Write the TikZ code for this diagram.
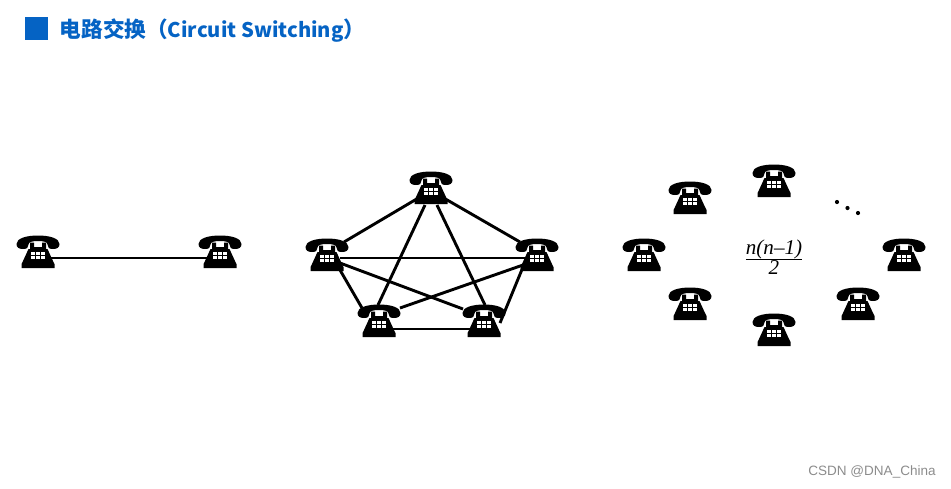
\documentclass[tikz,border=0pt]{standalone}
\usepackage{xcolor}
\usepackage{fontspec}
\newfontfamily\cjk{Noto Sans CJK SC}
\newfontfamily\timesfont{Liberation Serif}
\newfontfamily\markfont{Liberation Sans}
\definecolor{titleblue}{RGB}{5,99,196}
\tikzset{
    wire/.style={black,line width=1.65pt},
    phonebox/.style={inner sep=0pt,minimum width=42*.567pt,minimum height=32*.567pt},
    phone/.pic={
        % 听筒
        \fill (-21.5,-8) .. controls (-21.5,-13.5) and (-12,-16.5) .. (0,-16.5)
            .. controls (12,-16.5) and (21.5,-13.5) .. (21.5,-8)
            .. controls (21.5,-4.5) and (19,-3) .. (15,-3)
            .. controls (11,-3) and (9.5,-4.5) .. (9.5,-7.5)
            .. controls (9.5,-10) and (6,-11) .. (0,-11)
            .. controls (-6,-11) and (-9.5,-10) .. (-9.5,-7.5)
            .. controls (-9.5,-4.5) and (-11,-3) .. (-15,-3)
            .. controls (-19,-3) and (-21.5,-4.5) .. (-21.5,-8) -- cycle;
        % 机身
        \fill (-16.5,16) -- (-16.5,12) -- (-15,9) -- (-9.5,-3) -- (-8,-3) -- (-8,-9.5) -- (-4,-9.5) -- (-4,-5)
            -- (4,-5) -- (4,-9.5) -- (8,-9.5) -- (8,-3) -- (9.5,-3) -- (15,9) -- (16.5,12) -- (16.5,16) -- cycle;
        % 按键
        \foreach \kx in {-5,0,5}
            \foreach \ky in {1.6,5.4}
                \fill[white] (\kx-1.7,\ky-1.4) rectangle (\kx+1.7,\ky+1.4);
    }
}

\begin{document}
\begin{tikzpicture}[x=.02cm,y=-.02cm]
    \useasboundingbox (0,0) rectangle (951,488);

    % 标题
    \node[fill=titleblue,inner sep=0pt,minimum size=23*.567pt] (mark) at (36.5,28.5) {};
    \node[anchor=west,inner sep=0pt,text=titleblue,font=\cjk\bfseries\fontsize{12.3pt}{14pt}\selectfont] (title) at (59.5,31) {电路交换（{\fontsize{11.5pt}{14pt}\selectfont Circuit Switching}）};

    % 两部电话
    \node[phonebox] (A) at (38,252) {};
    \node[phonebox] (B) at (220,252) {};

    % 五部电话
    \node[phonebox] (C) at (431,188) {};
    \node[phonebox] (D) at (327,255) {};
    \node[phonebox] (E) at (537,255) {};
    \node[phonebox] (F) at (379,321) {};
    \node[phonebox] (G) at (484,321) {};

    % 右边一圈电话
    \node[phonebox] (H) at (644,255) {};
    \node[phonebox] (I) at (690,198) {};
    \node[phonebox] (J) at (774,181) {};
    \node[phonebox] (K) at (904,255) {};
    \node[phonebox] (L) at (858,304) {};
    \node[phonebox] (M) at (774,330) {};
    \node[phonebox] (N) at (690,304) {};

    % 连线
    \draw[wire] ([shift={(12,6)}]A.center) -- ([shift={(-13,6)}]B.center);
    \draw[wire] ([shift={(17,-13)}]D.center) -- ([shift={(-11,9)}]C.center);
    \draw[wire] ([shift={(-17,-13)}]E.center) -- ([shift={(11,9)}]C.center);
    \draw[wire] ([shift={(-6,17)}]C.center) -- ([shift={(-1,-16)}]F.center);
    \draw[wire] ([shift={(6,17)}]C.center) -- ([shift={(1,-16)}]G.center);
    \draw[wire] ([shift={(13,3)}]D.center) -- ([shift={(-12,3)}]E.center);
    \draw[wire] ([shift={(13,15)}]D.center) -- ([shift={(-17,-13)}]F.center);
    \draw[wire] ([shift={(13,8)}]D.center) -- ([shift={(-21,-12)}]G.center);
    \draw[wire] ([shift={(-14,10)}]E.center) -- ([shift={(21,-13)}]F.center);
    \draw[wire] ([shift={(-14,12)}]E.center) -- ([shift={(16,2)}]G.center);
    \draw[wire] ([shift={(11,8)}]F.center) -- ([shift={(-9,8)}]G.center);

    % 画电话
    \foreach \p in {A,B,C,D,E,F,G,H,I,J,K,L,M,N}
        \pic at (\p) {phone};

    % 公式和省略号
    \node[inner sep=0pt,font=\timesfont\fontsize{12pt}{13pt}\selectfont] (count) at (774,257) {$\frac{\hbox{\itshape n(n–1)}}{\hbox{\itshape 2}}$};
    \fill (837,202) circle (2.1);
    \fill (847.5,208) circle (2.1);
    \fill (858,213) circle (2.1);

    % 水印
    \node[anchor=east,inner sep=0pt,text=black!45,font=\markfont\fontsize{7.7pt}{9pt}\selectfont] (csdn) at (936,472) {CSDN @DNA\_China};
\end{tikzpicture}
\end{document}
